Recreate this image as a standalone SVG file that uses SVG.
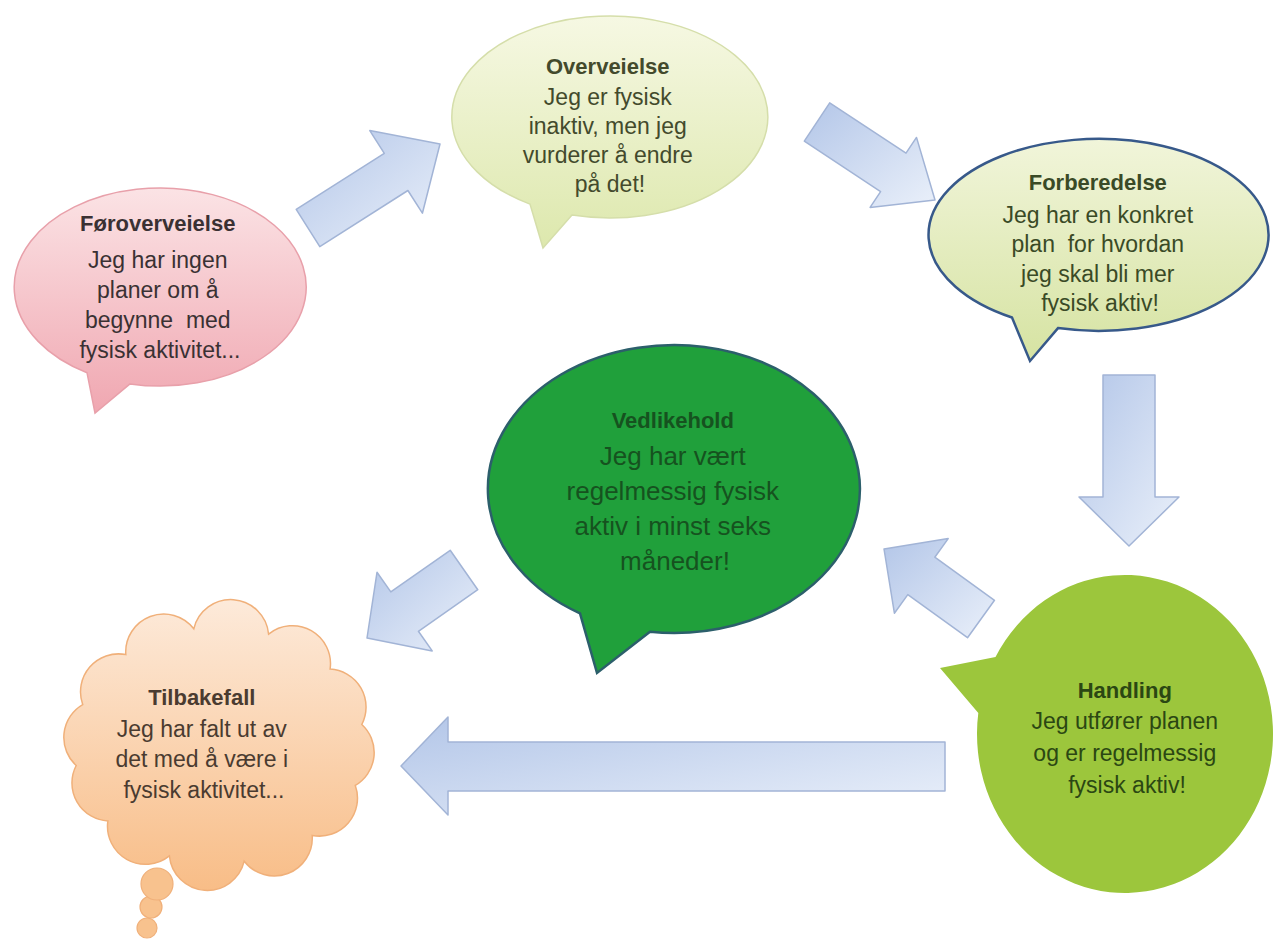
<svg xmlns="http://www.w3.org/2000/svg" width="1274" height="942" viewBox="0 0 1274 942">
<style>
text { font-family: "Liberation Sans", Arial, sans-serif; text-anchor: middle; }
.t { font-weight: bold; font-size: 22px; }
.b { font-size: 23px; }
.vb { font-size: 26px; }
.arrow { fill: url(#gArrow); stroke: #a2b4d6; stroke-width: 1.5; stroke-linejoin: round; }
</style>
<defs>
  <linearGradient id="gArrow" x1="0" y1="0" x2="1" y2="1">
    <stop offset="0" stop-color="#b3c6e8"/>
    <stop offset="1" stop-color="#eaf0fa"/>
  </linearGradient>
  <linearGradient id="gPink" x1="0" y1="0" x2="0" y2="1">
    <stop offset="0" stop-color="#fbe3e5"/>
    <stop offset="1" stop-color="#f0a7b1"/>
  </linearGradient>
  <linearGradient id="gYellow" x1="0" y1="0" x2="0" y2="1">
    <stop offset="0" stop-color="#f6f8e3"/>
    <stop offset="1" stop-color="#dde8ad"/>
  </linearGradient>
  <linearGradient id="gYellow2" x1="0" y1="0" x2="0" y2="1">
    <stop offset="0" stop-color="#f1f5da"/>
    <stop offset="1" stop-color="#d6e3a2"/>
  </linearGradient>
  <linearGradient id="gOrange" x1="0" y1="0" x2="0" y2="1">
    <stop offset="0" stop-color="#fdeada"/>
    <stop offset="1" stop-color="#f8bd87"/>
  </linearGradient>
</defs>
<rect width="1274" height="942" fill="#ffffff"/>

<g id="connectors">
  <polygon class="arrow" points="319.8,246.6 407.9,190.5 422.4,213.2 440,144 369.8,130.6 384.3,153.3 296.2,209.4"/>
  <polygon class="arrow" points="804.3,141.2 880.6,191.6 870.1,207.4 935,200 916.5,137.4 906,153.2 829.7,102.8"/>
  <polygon class="arrow" points="1103,375 1155,375 1155,497 1179,497 1129,546 1079,497 1103,497"/>
  <polygon class="arrow" points="994.5,600.3 934.8,557.2 948.2,538.6 884,549 894.4,613.2 907.8,594.6 967.5,637.7"/>
  <polygon class="arrow" points="450.2,550.3 390.8,591.9 377,572.3 367,638 432.2,650.9 418.4,631.3 477.8,589.7"/>
  <polygon class="arrow" points="945,742 448,742 448,717 401,766 448,815 448,791 945,791"/>
</g>

<g id="node-foroverveielse">
  <path d="M130,383.9 L95,413 L87,372.7 A146 99 0 1 1 130,383.9 Z" fill="url(#gPink)" stroke="#e8a0aa" stroke-width="1.5"/>
  <text fill="#3a3133">
    <tspan class="t" x="160" y="231">Føroverveielse</tspan>
    <tspan class="b" x="160" y="268">Jeg har ingen</tspan>
    <tspan class="b" x="160" y="298">planer om å</tspan>
    <tspan class="b" x="160" y="328">begynne&#160; med</tspan>
    <tspan class="b" x="160" y="358">fysisk aktivitet...</tspan>
  </text>
</g>

<g id="node-overveielse">
  <path d="M572,215 L543,248 L530,204.1 A158 101 0 1 1 572,215 Z" fill="url(#gYellow)" stroke="#d5deaa" stroke-width="1.5"/>
  <text fill="#434a2c">
    <tspan class="t" x="610" y="74">Overveielse</tspan>
    <tspan class="b" x="610" y="105">Jeg er fysisk</tspan>
    <tspan class="b" x="610" y="134">inaktiv, men jeg</tspan>
    <tspan class="b" x="610" y="163">vurderer å endre</tspan>
    <tspan class="b" x="610" y="192">på det!</tspan>
  </text>
</g>

<g id="node-forberedelse">
  <path d="M1058,328.1 L1030,361 L1012,317.5 A170 96 0 1 1 1058,328.1 Z" fill="url(#gYellow2)" stroke="#37598a" stroke-width="2.5"/>
  <text fill="#3a4a26">
    <tspan class="t" x="1100" y="190">Forberedelse</tspan>
    <tspan class="b" x="1100" y="223">Jeg har en konkret</tspan>
    <tspan class="b" x="1100" y="252">plan&#160; for hvordan</tspan>
    <tspan class="b" x="1100" y="282">jeg skal bli mer</tspan>
    <tspan class="b" x="1100" y="311">fysisk aktiv!</tspan>
  </text>
</g>

<g id="node-vedlikehold">
  <path d="M650,631.8 L597,673 L580,613.3 A186 144 0 1 1 650,631.8 Z" fill="#20a03b" stroke="#2c5f6b" stroke-width="2.5"/>
  <text fill="#16521f">
    <tspan class="t" x="675" y="428">Vedlikehold</tspan>
    <tspan class="vb" x="675" y="465">Jeg har vært</tspan>
    <tspan class="vb" x="675" y="500">regelmessig fysisk</tspan>
    <tspan class="vb" x="675" y="535">aktiv i minst seks</tspan>
    <tspan class="vb" x="675" y="570">måneder!</tspan>
  </text>
</g>

<g id="node-handling">
  <path d="M995.5,657 L940,668 L978.3,713 A148 159 0 1 0 995.5,657 Z" fill="#9cc63c"/>
  <text fill="#2b4713">
    <tspan class="t" x="1127" y="698">Handling</tspan>
    <tspan class="b" x="1127" y="729">Jeg utfører planen</tspan>
    <tspan class="b" x="1127" y="761">og er regelmessig</tspan>
    <tspan class="b" x="1127" y="793">fysisk aktiv!</tspan>
  </text>
</g>

<g id="node-tilbakefall">
  <circle cx="147" cy="928" r="10" fill="#f8c28e" stroke="#f0b07a" stroke-width="1.2"/>
  <circle cx="151" cy="907" r="11" fill="#f8c28e" stroke="#f0b07a" stroke-width="1.2"/>
  <circle cx="157" cy="884" r="16" fill="#f8c28e" stroke="#f0b07a" stroke-width="1.2"/>
  <path d="M82.7,704.6 A38 38 0 0 1 125.8,654.6 A38 38 0 0 1 193.8,628.8 A38 38 0 0 1 268.6,634.1 A38 38 0 0 1 330.1,669.1 A38 38 0 0 1 361.8,724.5 A38 38 0 0 1 355.3,785.4 A38 38 0 0 1 312.2,835.4 A38 38 0 0 1 244.2,861.2 A38 38 0 0 1 169.4,855.9 A38 38 0 0 1 107.9,820.9 A38 38 0 0 1 76.2,765.5 A38 38 0 0 1 82.7,704.6 Z" fill="url(#gOrange)" stroke="#f0b07a" stroke-width="1.5"/>
  <text fill="#4a3b30">
    <tspan class="t" x="204" y="705">Tilbakefall</tspan>
    <tspan class="b" x="204" y="737">Jeg har falt ut av</tspan>
    <tspan class="b" x="204" y="767">det med å være i</tspan>
    <tspan class="b" x="204" y="798">fysisk aktivitet...</tspan>
  </text>
</g>
</svg>
